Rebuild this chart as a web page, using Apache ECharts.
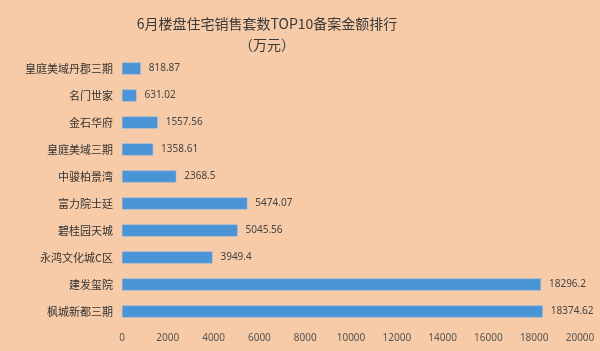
<!DOCTYPE html>
<html>
<head>
<meta charset="utf-8">
<script src="https://cdn.jsdelivr.net/npm/echarts@6/dist/echarts.min.js"></script>
<style>
  html, body {margin: 0; padding: 0;}
  #main {width: 600px; height: 351px;}
</style>
</head>
<body>
<div id="main"></div>
<script>
var projects = ['皇庭美域丹郡三期', '名门世家', '金石华府', '皇庭美域三期', '中骏柏景湾',
  '富力院士廷', '碧桂园天城', '永鸿文化城C区', '建发玺院', '枫城新都三期'];
var amounts = [818.87, 631.02, 1557.56, 1358.61, 2368.5, 5474.07, 5045.56, 3949.4, 18296.2, 18374.62];

var myChart = echarts.init(document.getElementById('main'));

var option = {
  backgroundColor: '#f7cba7',
  title: {
    text: '6月楼盘住宅销售套数TOP10备案金额排行\n（万元）',
    left: 262,
    textAlign: 'center',
    top: 8,
    textStyle: {
      color: '#3a3a3a',
      fontSize: 14,
      fontWeight: 'normal',
      lineHeight: 21,
      fontFamily: 'Noto Sans CJK SC'
    }
  },
  grid: {left: 122, right: 20, top: 55, bottom: 26},
  xAxis: {
    type: 'value',
    min: 0,
    max: 20000,
    interval: 2000,
    axisLine: {show: false},
    axisTick: {show: false},
    splitLine: {show: false},
    axisLabel: {
      color: '#555', fontSize: 10, margin: 8, fontFamily: 'Noto Sans',
      formatter: function (v) { return String(v); }
    }
  },
  yAxis: {
    type: 'category',
    inverse: true,
    data: projects,
    axisLine: {show: false},
    axisTick: {show: false},
    axisLabel: {color: '#333', fontSize: 11, margin: 9, fontFamily: 'Noto Sans CJK SC'}
  },
  series: [{
    type: 'bar',
    data: amounts,
    barWidth: 12,
    itemStyle: {color: '#4a93d5', borderColor: '#8fbde6', borderWidth: 0.5},
    label: {
      show: true,
      position: 'right',
      distance: 8,
      color: '#444',
      fontSize: 10,
      fontFamily: 'Noto Sans'
    }
  }]
};

myChart.setOption(option);
</script>
</body>
</html>
